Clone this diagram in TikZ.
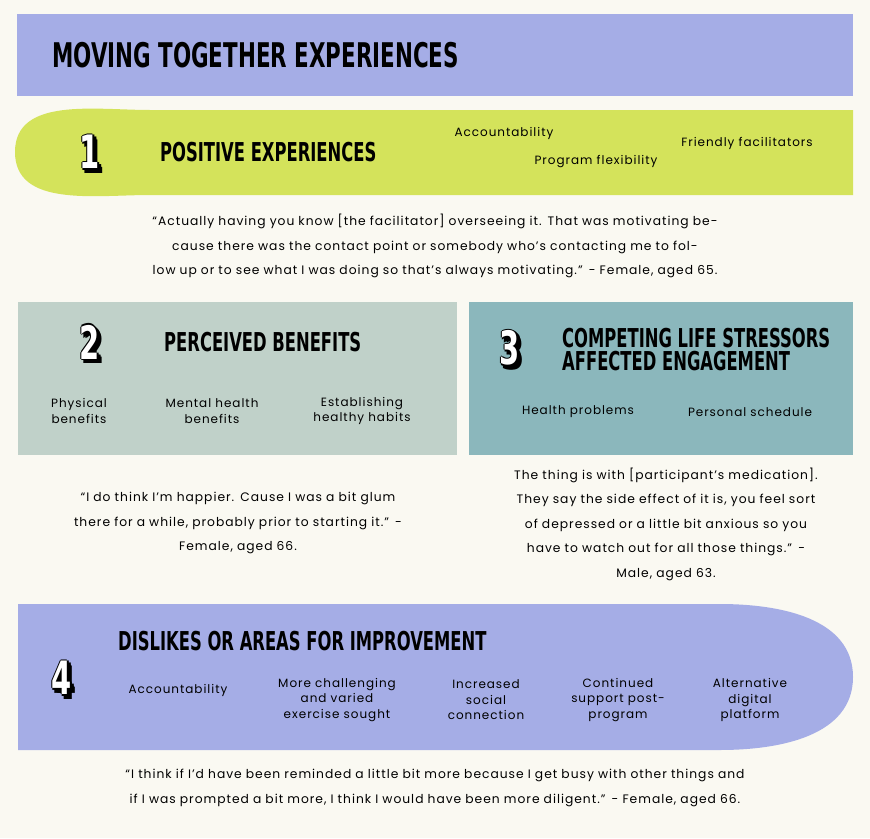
\documentclass[tikz,border=0pt]{standalone}
\usepackage{fontspec}
\setmainfont{Poppins}[LetterSpace=8]
\newfontfamily\headfont{DejaVu Sans Condensed}
\usetikzlibrary{positioning}
\definecolor{paper}{HTML}{FAF9F2}
\definecolor{lavender}{HTML}{A5ADE6}
\definecolor{lime}{HTML}{D4E35B}
\definecolor{sage}{HTML}{C0D1C9}
\definecolor{teal}{HTML}{8BB7BC}
\tikzset{%
	headtext/.style={anchor=west, font=\headfont\bfseries\fontsize{26}{26}\selectfont, inner sep=0pt},
	itemtext/.style={align=center, font=\fontsize{12}{15.5}\selectfont},
	quotetext/.style={align=center, font=\fontsize{12.3}{24.5}\selectfont, text width=800pt}
}
\newcommand{\hd}[1]{\scalebox{0.7}[1]{#1}}
\newcommand{\bignum}[4]{%
	\foreach \dx/\dy in {-1.5/0,1.5/0,0/-1.5,0/1.5,2.5/2.5,3.5/4,2/4.5,4/2,4.5/4.5}
		\node[font=\headfont\bfseries\fontsize{46}{46}\selectfont, text=black] at (#1+\dx,#2+\dy) {\hd{#3}};
	\node[font=\headfont\bfseries\fontsize{46}{46}\selectfont, text=white] (#4) at (#1,#2) {\hd{#3}};
}
\begin{document}
\begin{tikzpicture}[x=1pt, y=-1pt]
	\fill[paper] (0,0) rectangle (870,838);
	\useasboundingbox (0,0) rectangle (870,838);
	% title
	\fill[lavender] (17,14) rectangle (853,96);
	\node[headtext, font=\headfont\bfseries\fontsize{34}{34}\selectfont] (title) at (52,55) {\hd{MOVING TOGETHER EXPERIENCES}};
	% band 1
	\fill[lime] (853,110) -- (150,110) to[out=180,in=90] (15,152) to[out=-90,in=180] (150,195) -- (853,195) -- cycle;
	\bignum{90}{152}{1}{numone}
	\node[headtext] (posexp) at (160,152) {\hd{POSITIVE EXPERIENCES}};
	\node[itemtext] (account) at (504,133) {Accountability};
	\node[itemtext] (flex) at (596,162) {Program flexibility};
	\node[itemtext] (friendly) at (747,143) {Friendly facilitators};
	\node[quotetext] (quoteone) at (435,246) {``Actually having you know [the facilitator] overseeing it. That was motivating because there was the contact point or somebody who's contacting me to follow up or to see what I was doing so that's always motivating.'' - Female, aged 65.};
	% box 2
	\fill[sage] (18,302) rectangle (457,455);
	\bignum{90}{342}{2}{numtwo}
	\node[headtext] (benefits) at (164,342) {\hd{PERCEIVED BENEFITS}};
	\node[itemtext] (physical) at (79,411) {Physical\\benefits};
	\node[itemtext] (mental) at (212,411) {Mental health\\benefits};
	\node[itemtext] (habits) at (362,411) {Establishing\\healthy habits};
	\node[quotetext, text width=390pt] (quotetwo) at (238,523) {``I do think I'm happier. Cause I was a bit glum there for a while, probably prior to starting it.'' -\\Female, aged 66.};
	% box 3
	\fill[teal] (469,302) rectangle (853,455);
	\bignum{510}{348}{3}{numthree}
	\node[headtext] (stressors) at (562,353) {\hd{\begin{tabular}{@{}l@{}}COMPETING LIFE STRESSORS\\[-4pt]AFFECTED ENGAGEMENT\end{tabular}}};
	\node[itemtext] (health) at (578,412) {Health problems};
	\node[itemtext] (schedule) at (750,412) {Personal schedule};
	\node[quotetext, text width=350pt] (quotethree) at (666,524) {The thing is with [participant's medication]. They say the side effect of it is, you feel sort of depressed or a little bit anxious so you have to watch out for all those things.'' -\\Male, aged 63.};
	% band 4
	\fill[lavender] (18,604) -- (720,604) to[out=0,in=90] (853,677) to[out=-90,in=0] (720,750) -- (18,750) -- cycle;
	\bignum{62}{678}{4}{numfour}
	\node[headtext] (dislikes) at (118,641) {\hd{DISLIKES OR AREAS FOR IMPROVEMENT}};
	\node[itemtext] (accounttwo) at (178,690) {Accountability};
	\node[itemtext] (challenge) at (337,700) {More challenging\\and varied\\exercise sought};
	\node[itemtext] (social) at (486,700) {Increased\\social\\connection};
	\node[itemtext] (support) at (618,700) {Continued\\support post-\\program};
	\node[itemtext] (digital) at (750,700) {Alternative\\digital\\platform};
	\node[quotetext] (quotefour) at (435,788) {``I think if I'd have been reminded a little bit more because I get busy with other things and if I was prompted a bit more, I think I would have been more diligent.'' - Female, aged 66.};
\end{tikzpicture}
\end{document}
